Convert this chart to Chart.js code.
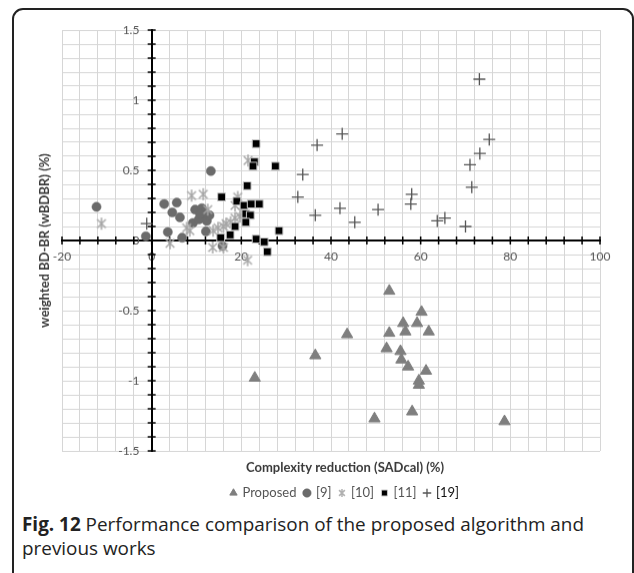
<!DOCTYPE html>
<html>
<head>
<meta charset="utf-8">
<script src="https://cdn.jsdelivr.net/npm/chart.js@4.4.1/dist/chart.umd.min.js"></script>
<style>
  html, body { margin: 0; padding: 0; background: #fff; overflow: hidden; }
  body { width: 634px; height: 573px; position: relative; }
  #frame {
    position: absolute; left: 12px; top: 8px; width: 618px; height: 600px;
    border: 2px solid #222; border-radius: 11px 11px 0 0;
  }
  #wrap { position: absolute; left: 0; top: 0; width: 700px; height: 508.5px; }
  #caption {
    position: absolute; left: 22px; top: 513px; width: 580px;
    font-family: "Open Sans", "Noto Sans", sans-serif; font-size: 18.9px;
    line-height: 23.5px; color: #222;
  }
  #caption b { font-weight: 700; }
</style>
</head>
<body>
<div id="frame"></div>
<div id="wrap"><canvas id="myChart"></canvas></div>
<div id="caption"><b>Fig. 12</b> Performance comparison of the proposed algorithm and previous works</div>
<script>
// Data: [complexity reduction %, wBDBR %]
const proposed = [
  [53.0, -0.36], [60.2, -0.51], [56.1, -0.59], [59.2, -0.59], [53.0, -0.66],
  [56.6, -0.65], [61.8, -0.65], [43.6, -0.67], [52.4, -0.77], [55.5, -0.79],
  [55.7, -0.85], [36.5, -0.82], [57.2, -0.90], [61.2, -0.93], [59.6, -1.00],
  [59.6, -1.03], [23.0, -0.98], [58.1, -1.22], [49.7, -1.27], [78.7, -1.29]
];
const ref9 = [
  [-12.3, 0.24], [-1.3, 0.03], [2.8, 0.26], [5.6, 0.27], [4.6, 0.20],
  [6.3, 0.165], [3.6, 0.06], [6.8, 0.02], [9.7, 0.22], [11.2, 0.23],
  [9.2, 0.125], [11.5, 0.16], [12.3, 0.14], [12.9, 0.18], [11.9, 0.20],
  [10.5, 0.15], [12.1, 0.065], [13.2, 0.495], [15.8, -0.04], [10.8, 0.19]
];
const ref10 = [
  [-11.2, 0.12], [4.1, -0.02], [7.8, 0.09], [8.5, 0.07], [8.9, 0.32],
  [11.5, 0.33], [12.5, 0.22], [13.7, 0.07], [14.8, 0.09], [16.0, 0.10],
  [16.6, 0.12], [17.6, 0.13], [18.6, 0.16], [19.7, 0.17], [20.3, 0.20],
  [18.6, 0.25], [19.2, 0.31], [21.5, 0.57], [13.6, -0.05], [16.0, -0.05],
  [21.4, -0.14]
];
const ref11 = [
  [23.3, 0.69], [22.9, 0.56], [22.6, 0.53], [27.6, 0.53], [21.3, 0.39],
  [15.6, 0.31], [19.0, 0.28], [20.6, 0.25], [22.2, 0.26], [24.0, 0.26],
  [21.0, 0.19], [22.0, 0.18], [21.0, 0.13], [18.6, 0.10], [17.5, 0.04],
  [15.4, 0.02], [28.4, 0.07], [23.3, 0.01], [25.1, -0.01], [25.8, -0.08]
];
const ref19 = [
  [-1.1, 0.12], [32.6, 0.31], [33.7, 0.47], [36.5, 0.18], [36.9, 0.68],
  [42.0, 0.23], [42.5, 0.76], [45.3, 0.13], [50.5, 0.22], [57.8, 0.26],
  [58.0, 0.33], [63.7, 0.14], [65.4, 0.16], [70.0, 0.10], [71.0, 0.54],
  [71.4, 0.38], [73.2, 0.62], [73.1, 1.15], [75.3, 0.72]
];

const xLabels = [-20, 0, 20, 40, 60, 80, 100];
const yLabels = [-1.5, -1, -0.5, 0, 0.5, 1, 1.5];

const toXY = (arr) => arr.map((p) => ({ x: p[0], y: p[1] }));

// Excel-like "star" marker: vertical bar + X
function makeStar(size, color) {
  const c = document.createElement("canvas");
  c.width = c.height = size;
  const g = c.getContext("2d");
  const m = size / 2;
  const r = size / 2 - 1;
  const d = r * 0.72;
  g.strokeStyle = color;
  g.lineWidth = 1.5;
  g.beginPath();
  g.moveTo(m, m - r); g.lineTo(m, m + r);
  g.moveTo(m - d, m - d); g.lineTo(m + d, m + d);
  g.moveTo(m + d, m - d); g.lineTo(m - d, m + d);
  g.stroke();
  return c;
}
const starMarker = makeStar(14, "#a6a6a6");
const starLegend = makeStar(10, "#b0b0b0");

// tick marks crossing the axes
const axisTicks = {
  id: "axisTicks",
  beforeDatasetsDraw(chart) {
    const { ctx, scales } = chart;
    const x = scales.x, y = scales.y;
    const x0 = x.getPixelForValue(0);
    const y0 = y.getPixelForValue(0);
    ctx.save();
    ctx.strokeStyle = "#000";
    ctx.lineWidth = 1.5;
    ctx.beginPath();
    x.ticks.forEach((t) => {
      const px = x.getPixelForValue(t.value);
      ctx.moveTo(px, y0 - 4);
      ctx.lineTo(px, y0 + 4);
    });
    y.ticks.forEach((t) => {
      const py = y.getPixelForValue(t.value);
      ctx.moveTo(x0 - 4, py);
      ctx.lineTo(x0 + 4, py);
    });
    ctx.stroke();
    ctx.restore();
  },
};

const family = "Lato, 'Liberation Sans', sans-serif";
const tickFont = { family, size: 12 };
const boldFont = { family, size: 13, weight: "bold", lineHeight: 1.2 };

const ctx = document.getElementById("myChart");

new Chart(ctx, {
  type: "scatter",
  data: {
    datasets: [
      {
        label: "Proposed",
        data: toXY(proposed),
        pointStyle: "triangle",
        pointRadius: 6.5,
        backgroundColor: "#7f7f7f",
        borderColor: "#7f7f7f",
        borderWidth: 1,
        order: 5,
      },
      {
        label: "[9]",
        data: toXY(ref9),
        pointStyle: "circle",
        pointRadius: 4.6,
        backgroundColor: "#6b6b6b",
        borderColor: "#6b6b6b",
        borderWidth: 0.5,
        order: 4,
      },
      {
        label: "[10]",
        data: toXY(ref10),
        pointStyle: starMarker,
        backgroundColor: "#a6a6a6",
        borderColor: "#a6a6a6",
        order: 3,
      },
      {
        label: "[11]",
        data: toXY(ref11),
        pointStyle: "rect",
        pointRadius: 5.5,
        backgroundColor: "#000",
        borderColor: "#c8c8c8",
        borderWidth: 1,
        order: 2,
      },
      {
        label: "[19]",
        data: toXY(ref19),
        pointStyle: "cross",
        pointRadius: 6,
        backgroundColor: "#555",
        borderColor: "#555",
        borderWidth: 1.3,
        order: 1,
      },
    ],
  },
  options: {
    responsive: true,
    maintainAspectRatio: false,
    animation: false,
    layout: {
      padding: { left: 10, right: 20, top: 30, bottom: 0 },
    },
    plugins: {
      tooltip: { enabled: false },
      title: {
        display: true,
        position: "left",
        fullSize: false,
        text: "weighted BD-BR (wBDBR) (%)",
        color: "#3a3a3a",
        font: boldFont,
        padding: { top: 27.2, bottom: 9.2 },
      },
      subtitle: {
        display: true,
        position: "right",
        fullSize: false,
        text: "",
        font: { size: 10, lineHeight: 1 },
        padding: { top: 70, bottom: 0 },
      },
      legend: {
        position: "bottom",
        title: {
          display: true,
          text: "Complexity reduction (SADcal) (%)",
          color: "#3a3a3a",
          font: boldFont,
          padding: { top: 10.5, bottom: 1.4 },
        },
        labels: {
          usePointStyle: true,
          boxWidth: 5,
          boxHeight: 6,
          padding: 8,
          color: "#555",
          font: { family, size: 13 },
          sort: (a, b) => a.datasetIndex - b.datasetIndex,
          generateLabels: (chart) => {
            const items = Chart.defaults.plugins.legend.labels.generateLabels(chart);
            items.forEach((it) => {
              if (it.text === "[10]") it.pointStyle = starLegend;
              if (it.text === "[19]") it.fontColor = "#111";
            });
            return items;
          },
        },
      },
    },
    scales: {
      x: {
        type: "linear",
        position: { y: 0 },
        min: -20,
        max: 100,
        grid: { color: "#d6d6d6", drawTicks: false },
        border: { color: "#000", width: 2 },
        ticks: {
          stepSize: 4,
          autoSkip: false,
          maxRotation: 0,
          padding: 9,
          color: "#555",
          font: tickFont,
          callback: (v) => (xLabels.includes(v) ? String(v) : ""),
        },
      },
      y: {
        type: "linear",
        position: { x: 0 },
        min: -1.5,
        max: 1.5,
        grid: { color: "#d6d6d6", drawTicks: false },
        border: { color: "#000", width: 2 },
        ticks: {
          stepSize: 0.1,
          autoSkip: false,
          color: "#555",
          font: tickFont,
          // the label sits right on the axis line, so pad it with spaces
          callback: (v) => {
            const hit = yLabels.find((l) => Math.abs(l - v) < 1e-6);
            return hit === undefined ? "" : String(hit) + "    ";
          },
        },
      },
    },
  },
  plugins: [axisTicks],
});
</script>
</body>
</html>
